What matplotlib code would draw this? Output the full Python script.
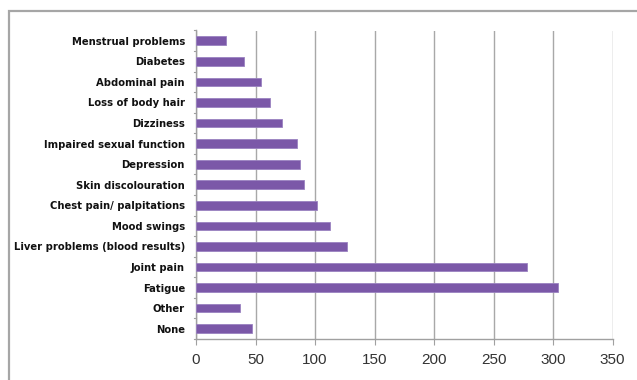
import matplotlib
matplotlib.use("Agg")
import matplotlib.pyplot as plt
from matplotlib.patches import Rectangle

categories = [
    "Menstrual problems", "Diabetes", "Abdominal pain", "Loss of body hair",
    "Dizziness", "Impaired sexual function", "Depression", "Skin discolouration",
    "Chest pain/ palpitations", "Mood swings", "Liver problems (blood results)",
    "Joint pain", "Fatigue", "Other", "None",
]
counts = [25, 40, 55, 62, 72, 85, 87, 91, 102, 113, 127, 278, 304, 37, 47]
x_ticks = [0, 50, 100, 150, 200, 250, 300, 350]

W, H = 637, 380
fig = plt.figure(figsize=(W / 100, H / 100), dpi=100)
fig.patch.set_facecolor("white")

# outer chart frame
fig.patches.append(Rectangle((9 / W, -0.05), 1.2, (H - 11) / H + 0.05,
                             transform=fig.transFigure, fill=False,
                             edgecolor="#a6a6a6", linewidth=1.6, zorder=0))

ax = fig.add_axes([196 / W, 1 - 339 / H, 416.5 / W, 308.5 / H])

ypos = list(range(len(categories)))
ax.barh(ypos, counts, height=0.42, color="#7b58a8", edgecolor="#9a82c0",
        linewidth=0.6, zorder=3)

ax.set_ylim(len(categories) - 0.5, -0.5)
ax.set_xlim(0, 350)
ax.set_xticks(x_ticks)
ax.set_xticklabels([str(t) for t in x_ticks], fontsize=11,
                   family=["Liberation Sans", "DejaVu Sans"], color="#333333")
ax.set_yticks(ypos)
ax.set_yticklabels(categories, fontsize=8, fontweight="bold",
                   family=["DejaVu Sans"], fontstretch="condensed",
                   color="#111111")
ax.tick_params(axis="y", length=0, pad=8)
ax.tick_params(axis="x", length=4, color="#a0a0a0", pad=6)

# small separator marks between categories on the value axis
for b in [i - 0.5 for i in range(len(categories) + 1)]:
    ax.plot([-1.4, 0], [b, b], color="#a0a0a0", linewidth=0.8,
            clip_on=False, zorder=4)

ax.grid(axis="x", color="#a8a8a8", linewidth=1.0, zorder=0)
for s in ["top", "right"]:
    ax.spines[s].set_visible(False)
for s in ["left", "bottom"]:
    ax.spines[s].set_color("#a0a0a0")
    ax.spines[s].set_linewidth(1.0)

fig.savefig("out.png", dpi=100)
